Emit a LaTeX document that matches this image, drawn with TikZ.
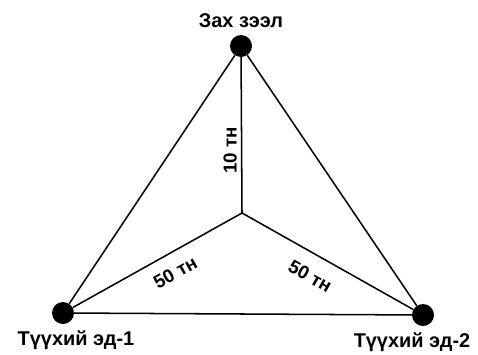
\documentclass[tikz,border=0pt]{standalone}
\usepackage{fontspec}
\setmainfont{Liberation Sans}
\usetikzlibrary{positioning}

\begin{document}
\begin{tikzpicture}[
  x=0.03cm,y=0.03cm,
  node distance=0.2cm,
  dot/.style={circle,fill=black,inner sep=0pt,minimum size=0.66cm},
  lbl/.style={font=\fontsize{17}{20}\selectfont\bfseries,inner sep=0pt},
  wt/.style={font=\fontsize{16}{19}\selectfont\bfseries},
  ln/.style={draw=black,line width=1.3pt},
  ]
  \useasboundingbox (0,0) rectangle (478,354);
  \node[dot] (zah) at (241,308) {};
  \node[dot] (ed1) at (63,41) {};
  \node[dot] (ed2) at (423,39) {};
  \coordinate (mid) at (242,141);

  \node[lbl,above=0.22cm of zah] (tzah) {Зах зээл};
  \node[lbl,below=0.2cm of ed1,xshift=0.39cm] (ted1) {Түүхий эд-1};
  \node[lbl,below=0.2cm of ed2,xshift=-0.33cm] (ted2) {Түүхий эд-2};

  \draw[ln] (zah) -- (ed1);
  \draw[ln] (zah) -- (ed2);
  \draw[ln] (ed1) -- (ed2);
  \draw[ln] (mid) -- node[wt,rotate=90,anchor=south,pos=0.4,inner sep=0.12cm] {10 тн} (zah);
  \draw[ln] (ed1) -- node[wt,sloped,below,pos=0.55,inner sep=0.36cm] {50 тн} (mid);
  \draw[ln] (mid) -- node[wt,sloped,below,pos=0.46,inner sep=0.42cm] {50 тн} (ed2);
\end{tikzpicture}
\end{document}
